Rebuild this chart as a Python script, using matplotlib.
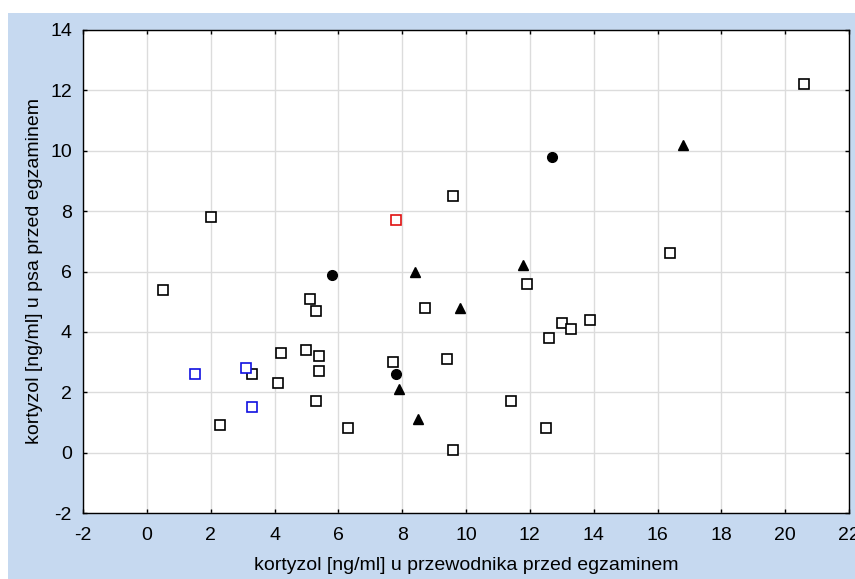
import matplotlib

matplotlib.use("Agg")
import matplotlib.pyplot as plt
from matplotlib.patches import Rectangle

plt.rcParams["font.family"] = ["Liberation Sans", "DejaVu Sans"]
plt.rcParams["axes.unicode_minus"] = False

# open black squares
sq_x = [0.5, 2.0, 2.3, 3.3, 4.1, 4.2, 5.0, 5.1, 5.3, 5.4, 5.4, 5.3, 6.3, 7.7,
        8.7, 9.4, 9.6, 9.6, 11.4, 11.9, 12.5, 12.6, 13.0, 13.3, 13.9, 16.4, 20.6]
sq_y = [5.4, 7.8, 0.9, 2.6, 2.3, 3.3, 3.4, 5.1, 4.7, 3.2, 2.7, 1.7, 0.8, 3.0,
        4.8, 3.1, 8.5, 0.1, 1.7, 5.6, 0.8, 3.8, 4.3, 4.1, 4.4, 6.6, 12.2]
# open blue squares
blue_x = [1.5, 3.1, 3.3]
blue_y = [2.6, 2.8, 1.5]
# open red square
red_x = [7.8]
red_y = [7.7]
# filled circles
circ_x = [5.8, 7.8, 12.7]
circ_y = [5.9, 2.6, 9.8]
# filled triangles
tri_x = [8.4, 7.9, 8.5, 9.8, 11.8, 16.8]
tri_y = [6.0, 2.1, 1.1, 4.8, 6.2, 10.2]

W, H = 855, 579
fig = plt.figure(figsize=(W / 100, H / 100), dpi=100)
fig.patch.set_facecolor("white")
fig.patches.append(Rectangle((8 / W, 0), 1 - 8 / W, 1 - 13 / H,
                             transform=fig.transFigure, facecolor="#c6d9f0",
                             edgecolor="none", zorder=-10))

ax = fig.add_axes([83 / W, 1 - 513 / H, (849 - 83) / W, (513 - 30) / H])
ax.set_zorder(1)
ax.set_facecolor("white")

kw = dict(linestyle="none", markersize=7, markeredgewidth=1.2, zorder=3)
ax.plot(sq_x, sq_y, marker="s", markerfacecolor="white", markeredgecolor="black", **kw)
ax.plot(blue_x, blue_y, marker="s", markerfacecolor="white", markeredgecolor="#1010e0", **kw)
ax.plot(red_x, red_y, marker="s", markerfacecolor="white", markeredgecolor="#e01010", **kw)
ax.plot(circ_x, circ_y, marker="o", color="black", linestyle="none", markersize=7, zorder=3)
ax.plot(tri_x, tri_y, marker="^", color="black", linestyle="none", markersize=6.5, zorder=3)

ax.set_xlim(-2, 22)
ax.set_ylim(-2, 14)
ax.set_xticks(range(-2, 23, 2))
ax.set_yticks(range(-2, 15, 2))
ax.grid(True, color="#dcdcdc", linewidth=1)
ax.set_axisbelow(True)
ax.tick_params(direction="in", length=3, width=1, top=True, right=True,
               labelsize=14, pad=8)
ax.tick_params(axis="x", pad=10)
for s in ax.spines.values():
    s.set_linewidth(1)
    s.set_color("black")

ax.set_xlabel("kortyzol [ng/ml] u przewodnika przed egzaminem", fontsize=14)
ax.set_ylabel("kortyzol [ng/ml] u psa przed egzaminem", fontsize=14)
ax.xaxis.set_label_coords(0.5, -(557 - 513) / 483)
ax.yaxis.set_label_coords(-(83 - 43) / 766, 0.5)

fig.savefig("out.png", dpi=100)
